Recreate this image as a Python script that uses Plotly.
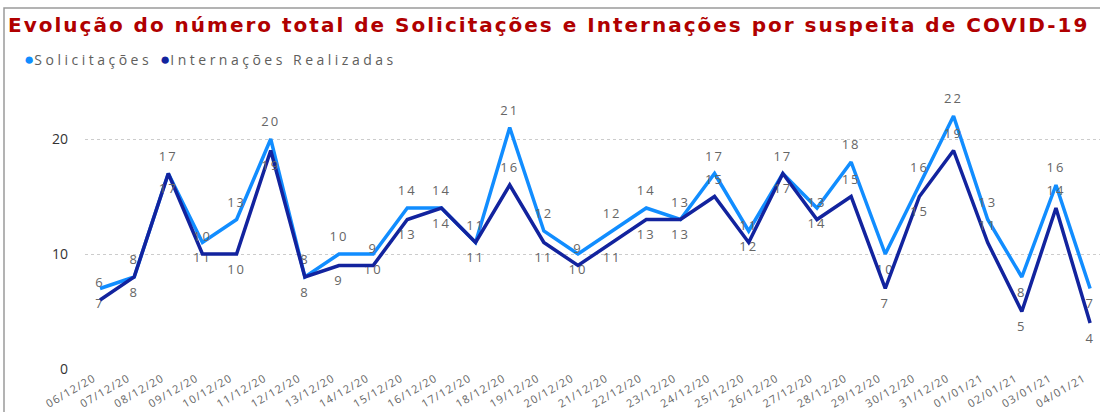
import plotly.graph_objects as go

datas = ["06/12/20", "07/12/20", "08/12/20", "09/12/20", "10/12/20", "11/12/20", "12/12/20",
         "13/12/20", "14/12/20", "15/12/20", "16/12/20", "17/12/20", "18/12/20", "19/12/20",
         "20/12/20", "21/12/20", "22/12/20", "23/12/20", "24/12/20", "25/12/20", "26/12/20",
         "27/12/20", "28/12/20", "29/12/20", "30/12/20", "31/12/20", "01/01/21", "02/01/21",
         "03/01/21", "04/01/21"]
solicitacoes = [7, 8, 17, 11, 13, 20, 8, 10, 10, 14, 14, 11, 21, 12, 10, 12, 14, 13, 17, 12,
                17, 14, 18, 10, 16, 22, 13, 8, 16, 7]
internacoes = [6, 8, 17, 10, 10, 19, 8, 9, 9, 13, 14, 11, 16, 11, 9, 11, 13, 13, 15, 11,
               17, 13, 15, 7, 15, 19, 11, 5, 14, 4]
# label placement (t = above point, b = below point)
pos_sol = ["b", "t", "t", "b", "t", "t", "t", "t", "b", "t", "t", "t", "t", "t", "b", "t", "t", "t",
           "t", "b", "t", "b", "t", "b", "t", "t", "t", "b", "t", "b"]
pos_int = ["t", "b", "b", "t", "b", "b", "b", "b", "t", "b", "b", "b", "t", "b", "t", "b", "b", "b",
           "t", "t", "b", "t", "t", "b", "b", "t", "t", "b", "t", "b"]

COR_SOL = "#118DFF"
COR_INT = "#12239E"
TXT = "#666666"


def tp(lst):
    return ["top center" if p == "t" else "bottom center" for p in lst]


def sp(s, ls):
    return f"<span style='letter-spacing:{ls}px'>{s}</span>"


fig = go.Figure()
fig.add_trace(go.Scatter(
    x=datas, y=solicitacoes, mode="lines+markers+text", name="Solicitações",
    line=dict(color=COR_SOL, width=3.5), marker=dict(size=14, color="rgba(0,0,0,0)"),
    text=[sp(v, 2) for v in solicitacoes],
    textposition=tp(pos_sol), textfont=dict(family="Open Sans", size=13, color=TXT),
    showlegend=False, cliponaxis=False))
fig.add_trace(go.Scatter(
    x=datas, y=internacoes, mode="lines+markers+text", name="Internações Realizadas",
    line=dict(color=COR_INT, width=3.5), marker=dict(size=14, color="rgba(0,0,0,0)"),
    text=[sp(v, 2) for v in internacoes],
    textposition=tp(pos_int), textfont=dict(family="Open Sans", size=13, color=TXT),
    showlegend=False, cliponaxis=False))

L, T, W, H = 85, 93, 1015, 276


def px(xp):
    return (xp - L) / W


def py(yp):
    return (T + H - yp) / H


fig.add_annotation(xref="paper", yref="paper", x=px(22), y=py(58), xanchor="left", yanchor="middle",
                   showarrow=False,
                   text=f"<span style='color:{COR_SOL};font-size:17px'>●</span>" + sp("Solicitações", 3.5),
                   font=dict(family="Open Sans", size=14, color="#605E5C"))
fig.add_annotation(xref="paper", yref="paper", x=px(158), y=py(58), xanchor="left", yanchor="middle",
                   showarrow=False,
                   text=f"<span style='color:{COR_INT};font-size:17px'>●</span>" + sp("Internações Realizadas", 3.5),
                   font=dict(family="Open Sans", size=14, color="#605E5C"))

fig.add_shape(type="rect", xref="paper", yref="paper", x0=px(4), x1=px(1110), y0=py(8), y1=py(430),
              line=dict(color="#9A9A9A", width=1.5), layer="below")

fig.update_layout(
    width=1100, height=412,
    margin=dict(l=L, r=0, t=T, b=412 - T - H),
    paper_bgcolor="white", plot_bgcolor="white",
    title=dict(text="<b>" + sp("Evolução do número total de Solicitações e Internações por suspeita de COVID-19", 2.0) + "</b>",
               x=8 / 1100, xanchor="left", y=1 - 25 / 412, yanchor="middle",
               font=dict(family="DejaVu Sans", size=20, color="#B00000")),
    xaxis=dict(type="category", range=[-0.44, 29.29], showgrid=False, showline=False, zeroline=False,
               tickangle=-30, tickvals=datas, ticktext=[sp(d, 1.2) for d in datas], ticklabelshift=-6,
               tickfont=dict(family="Open Sans", size=11, color="#666666"), ticks=""),
    yaxis=dict(range=[0, 24], tickvals=[0, 10, 20], showgrid=True, gridcolor="#CCCCCC",
               griddash="dot", gridwidth=1, zeroline=False, showline=False, ticks="",
               ticklabelstandoff=16,
               tickfont=dict(family="Open Sans", size=14, color="#333333")),
)

fig.write_html("out.html", config={"displayModeBar": False},
               post_script="document.body.style.margin='0';")
